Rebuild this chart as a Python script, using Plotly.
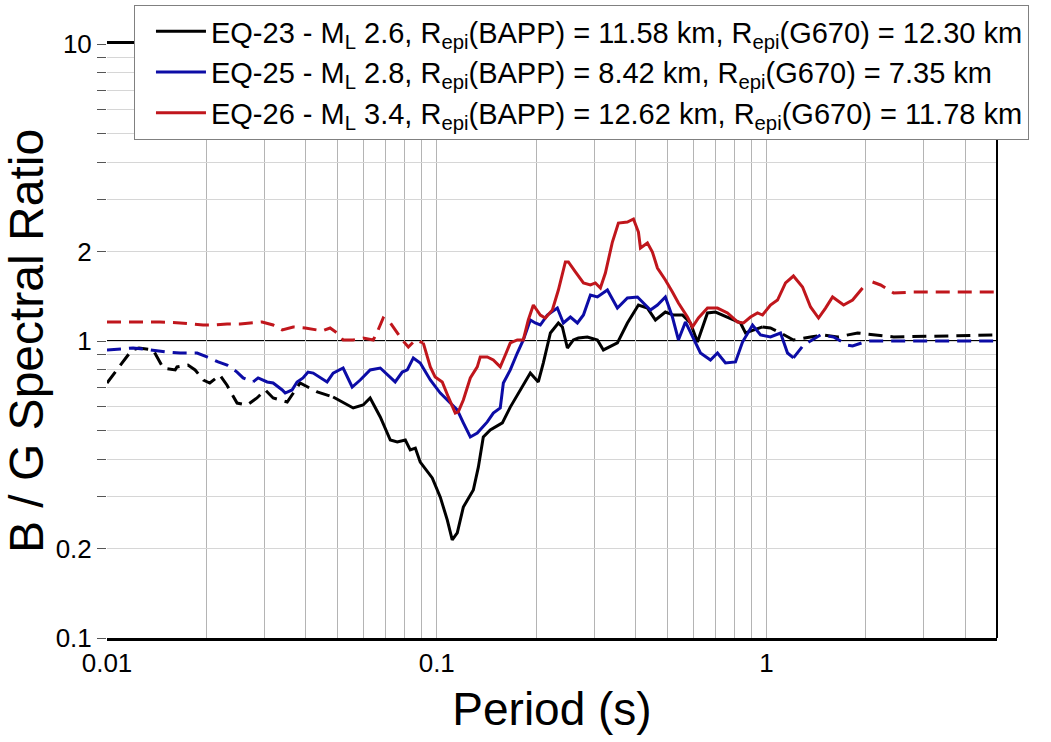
import plotly.graph_objects as go

# ---------------- data (period in s, B/G spectral ratio) ----------------
# EQ-23 (black)
eq23_lp_T = [0.0100, 0.0119, 0.0125, 0.0138, 0.0148, 0.0161, 0.0163, 0.0176, 0.0185, 0.0196, 0.0205,
             0.0220, 0.0231, 0.0248, 0.0266, 0.0285, 0.0302, 0.0319, 0.0352, 0.0385, 0.0434, 0.0485]
eq23_lp_R = [0.722, 0.933, 0.947, 0.933, 0.811, 0.799, 0.818, 0.830, 0.799, 0.739, 0.722,
             0.768, 0.711, 0.618, 0.609, 0.643, 0.684, 0.643, 0.623, 0.722, 0.674, 0.648]
eq23_T = [0.0485, 0.0558, 0.0598, 0.0628, 0.0674, 0.0723, 0.0759, 0.0803, 0.0831, 0.0861, 0.0891,
          0.0969, 0.1025, 0.1076, 0.1114, 0.1154, 0.1204, 0.1291, 0.1337, 0.1384, 0.1453, 0.1581,
          0.1671, 0.1792, 0.1922, 0.2032, 0.2104, 0.2211, 0.2338, 0.2404, 0.2490, 0.2596, 0.2689,
          0.2863, 0.3070, 0.3201, 0.3530, 0.3786, 0.4089, 0.4354, 0.4604, 0.4935, 0.5221, 0.5559,
          0.5879, 0.6174, 0.6622, 0.7002, 0.7615, 0.8339, 0.8636, 0.9134, 0.9725]
eq23_R = [0.648, 0.595, 0.609, 0.643, 0.555, 0.464, 0.457, 0.464, 0.430, 0.436, 0.391,
          0.346, 0.298, 0.250, 0.214, 0.226, 0.276, 0.315, 0.376, 0.475, 0.502, 0.530,
          0.599, 0.684, 0.780, 0.728, 0.843, 1.064, 1.150, 1.115, 0.947, 1.008, 1.023,
          1.032, 1.008, 0.933, 0.985, 1.150, 1.322, 1.291, 1.177, 1.252, 1.223, 1.223,
          1.150, 0.992, 1.243, 1.252, 1.204, 1.150, 1.064, 1.089, 1.115]
eq23_hp_T = [0.9725, 1.028, 1.103, 1.207, 1.360, 1.489, 1.642, 1.889, 2.429, 5.0]
eq23_hp_R = [1.115, 1.106, 1.064, 1.008, 1.032, 1.048, 1.032, 1.064, 1.032, 1.048]

# EQ-25 (blue)
eq25_lp_T = [0.0100, 0.01095, 0.0120, 0.01286, 0.01418, 0.0152, 0.01666, 0.01876, 0.0201, 0.02173,
             0.02313, 0.0248, 0.02587, 0.02774]
eq25_lp_R = [0.933, 0.940, 0.947, 0.940, 0.925, 0.918, 0.911, 0.911, 0.884, 0.850,
             0.830, 0.786, 0.751, 0.728]
eq25_T = [0.02774, 0.02873, 0.0306, 0.0319, 0.0340, 0.0347, 0.0364, 0.0377, 0.0393, 0.0407, 0.0422,
          0.0443, 0.0465, 0.0485, 0.0520, 0.0554, 0.0586, 0.0628, 0.0674, 0.0748, 0.0786, 0.0814,
          0.0849, 0.0891, 0.0956, 0.1025, 0.1099, 0.1154, 0.1204, 0.1264, 0.1327, 0.1423, 0.1484,
          0.1558, 0.1592, 0.1671, 0.1755, 0.1830, 0.1922, 0.1990, 0.2061, 0.2164, 0.2321, 0.2421,
          0.2543, 0.2670, 0.2785, 0.2924, 0.3070, 0.3292, 0.3530, 0.3786, 0.4061, 0.4446, 0.4669,
          0.4935, 0.5184, 0.5406, 0.5677, 0.5962, 0.6305, 0.6761, 0.7101, 0.7509, 0.8053, 0.8457,
          0.9071, 0.9590, 1.028, 1.103, 1.158, 1.207]
eq25_R = [0.728, 0.751, 0.728, 0.722, 0.684, 0.668, 0.684, 0.728, 0.751, 0.786, 0.780,
          0.751, 0.728, 0.780, 0.811, 0.700, 0.739, 0.799, 0.811, 0.728, 0.786, 0.799,
          0.877, 0.843, 0.739, 0.668, 0.618, 0.586, 0.530, 0.475, 0.490, 0.534, 0.572,
          0.595, 0.722, 0.799, 0.911, 1.008, 1.177, 1.150, 1.132, 1.223, 1.291, 1.150,
          1.204, 1.150, 1.223, 1.428, 1.407, 1.485, 1.291, 1.396, 1.407, 1.272, 1.322,
          1.407, 1.204, 1.008, 1.159, 1.032, 0.911, 0.863, 0.911, 0.843, 0.850, 0.992,
          1.132, 1.048, 1.032, 1.064, 0.911, 0.877]
eq25_hp_T = [1.207, 1.295, 1.458, 1.597, 1.761, 1.824, 2.025, 5.0]
eq25_hp_R = [0.877, 0.969, 1.048, 1.032, 0.969, 0.962, 1.000, 1.000]

# EQ-26 (red)
eq26_lp_T = [0.0100, 0.0120, 0.01448, 0.01666, 0.01786, 0.01956, 0.02127, 0.02313, 0.02533, 0.02954,
             0.0319, 0.0340, 0.0367, 0.0399, 0.0434, 0.0449, 0.0475, 0.0499, 0.0520, 0.0558,
             0.0598, 0.0642, 0.0664, 0.0688, 0.0723, 0.0759, 0.0786, 0.0820, 0.0861, 0.0910]
eq26_lp_R = [1.159, 1.159, 1.159, 1.150, 1.141, 1.132, 1.132, 1.141, 1.141, 1.159,
             1.132, 1.089, 1.115, 1.106, 1.089, 1.081, 1.106, 1.064, 1.008, 1.008,
             1.023, 1.008, 1.089, 1.195, 1.150, 1.064, 1.008, 0.954, 1.008, 0.985]
eq26_T = [0.0910, 0.0956, 0.0989, 0.1039, 0.1084, 0.1138, 0.1162, 0.1204, 0.1264, 0.1327, 0.1355,
          0.1423, 0.1484, 0.1558, 0.1614, 0.1671, 0.1755, 0.1830, 0.1895, 0.1963, 0.2061, 0.2134,
          0.2242, 0.2338, 0.2455, 0.2507, 0.2633, 0.2785, 0.2924, 0.3027, 0.3135, 0.3246, 0.3409,
          0.3555, 0.3786, 0.3949, 0.4089, 0.4147, 0.4354, 0.4508, 0.4669, 0.4935, 0.5184, 0.5406,
          0.5757, 0.5962, 0.6217, 0.6622, 0.7101, 0.7615, 0.8166, 0.8516, 0.8944, 0.9391, 0.9725,
          1.028, 1.080, 1.142, 1.207, 1.286, 1.360, 1.438, 1.510, 1.586, 1.713, 1.824, 1.956]
eq26_R = [0.985, 0.818, 0.756, 0.728, 0.648, 0.572, 0.577, 0.633, 0.751, 0.818, 0.884,
          0.884, 0.863, 0.818, 0.897, 0.985, 1.008, 1.008, 1.177, 1.322, 1.223, 1.195,
          1.272, 1.485, 1.845, 1.845, 1.708, 1.568, 1.544, 1.568, 1.508, 1.694, 2.154,
          2.496, 2.515, 2.575, 2.328, 2.057, 2.138, 1.994, 1.761, 1.605, 1.462, 1.343,
          1.204, 1.115, 1.195, 1.291, 1.291, 1.243, 1.159, 1.150, 1.204, 1.243, 1.223,
          1.322, 1.374, 1.568, 1.655, 1.520, 1.302, 1.195, 1.291, 1.407, 1.322, 1.374, 1.508]
eq26_hp_T = [2.097, 2.218, 2.429, 2.793, 5.0]
eq26_hp_R = [1.580, 1.544, 1.451, 1.462, 1.462]

legend_names = [
    "EQ-23 - M<sub>L</sub> 2.6, R<sub>epi</sub>(BAPP) = 11.58 km, R<sub>epi</sub>(G670) = 12.30 km",
    "EQ-25 - M<sub>L</sub> 2.8, R<sub>epi</sub>(BAPP) = 8.42 km, R<sub>epi</sub>(G670) = 7.35 km",
    "EQ-26 - M<sub>L</sub> 3.4, R<sub>epi</sub>(BAPP) = 12.62 km, R<sub>epi</sub>(G670) = 11.78 km",
]
colors = ["#000000", "#0c0ca6", "#c0161c"]

x_tickvals = [0.01, 0.02, 0.03, 0.04, 0.05, 0.06, 0.07, 0.08, 0.09,
              0.1, 0.2, 0.3, 0.4, 0.5, 0.6, 0.7, 0.8, 0.9,
              1, 2, 3, 4, 5]
x_labels = {0.01: "0.01", 0.1: "0.1", 1: "1"}
y_tickvals = [0.1, 0.2, 0.3, 0.4, 0.5, 0.6, 0.7, 0.8, 0.9,
              1, 2, 3, 4, 5, 6, 7, 8, 9, 10]
y_labels = {0.1: "0.1", 0.2: "0.2", 1: "1", 2: "2", 10: "10"}

FONT = "Liberation Sans, Arial, sans-serif"
DASH = "14px,8px"
LW = 3

fig = go.Figure()

series = [
    (eq23_lp_T, eq23_lp_R, eq23_T, eq23_R, eq23_hp_T, eq23_hp_R),
    (eq25_lp_T, eq25_lp_R, eq25_T, eq25_R, eq25_hp_T, eq25_hp_R),
    (eq26_lp_T, eq26_lp_R, eq26_T, eq26_R, eq26_hp_T, eq26_hp_R),
]
for (lt, lr, st, sr, ht, hr), name, col in zip(series, legend_names, colors):
    fig.add_trace(go.Scatter(x=st, y=sr, mode="lines", name=name,
                             line=dict(color=col, width=LW), legendgroup=name))
    fig.add_trace(go.Scatter(x=lt, y=lr, mode="lines", showlegend=False,
                             line=dict(color=col, width=LW, dash=DASH), legendgroup=name))
    fig.add_trace(go.Scatter(x=ht, y=hr, mode="lines", showlegend=False,
                             line=dict(color=col, width=LW, dash=DASH), legendgroup=name))

fig.update_layout(
    width=1051, height=742,
    margin=dict(l=107, r=54, t=44, b=104, autoexpand=False),
    paper_bgcolor="white", plot_bgcolor="white",
    font=dict(family=FONT, color="#000000"),
    showlegend=True,
    legend=dict(
        x=0.0303, y=1.0657, xanchor="left", yanchor="top",
        xref="paper", yref="paper",
        bgcolor="white", bordercolor="#808080", borderwidth=1,
        font=dict(family=FONT, size=29, color="#000000"),
        itemwidth=50, tracegroupgap=0, indentation=16,
    ),
    xaxis=dict(
        type="log", range=[-2, 0.69897],
        tickvals=x_tickvals,
        ticktext=[x_labels.get(v, "") for v in x_tickvals],
        tickfont=dict(family=FONT, size=26),
        ticks="", showgrid=True, gridcolor="#b4b4b4", gridwidth=1,
        showline=True, linecolor="#000000", linewidth=3, mirror=True,
        zeroline=False,
        title=dict(text="Period (s)", font=dict(family=FONT, size=46), standoff=16),
    ),
    yaxis=dict(
        type="log", range=[-1, 1],
        tickvals=y_tickvals,
        ticktext=[y_labels.get(v, "") for v in y_tickvals],
        tickfont=dict(family=FONT, size=26),
        ticks="outside", ticklen=9, tickcolor="#555555", tickwidth=1,
        showgrid=True, gridcolor="#d6d6d6", gridwidth=1,
        showline=False, zeroline=False,
        title=dict(text="B / G Spectral Ratio", font=dict(family=FONT, size=48), standoff=10),
    ),
    shapes=[
        dict(type="line", xref="paper", yref="y", x0=0, x1=1, y0=1, y1=1,
             line=dict(color="#000000", width=2), layer="below"),
        dict(type="line", xref="paper", yref="paper", x0=1, x1=1, y0=0, y1=1,
             line=dict(color="#000000", width=2)),
    ],
)

fig.write_html("out.html")
